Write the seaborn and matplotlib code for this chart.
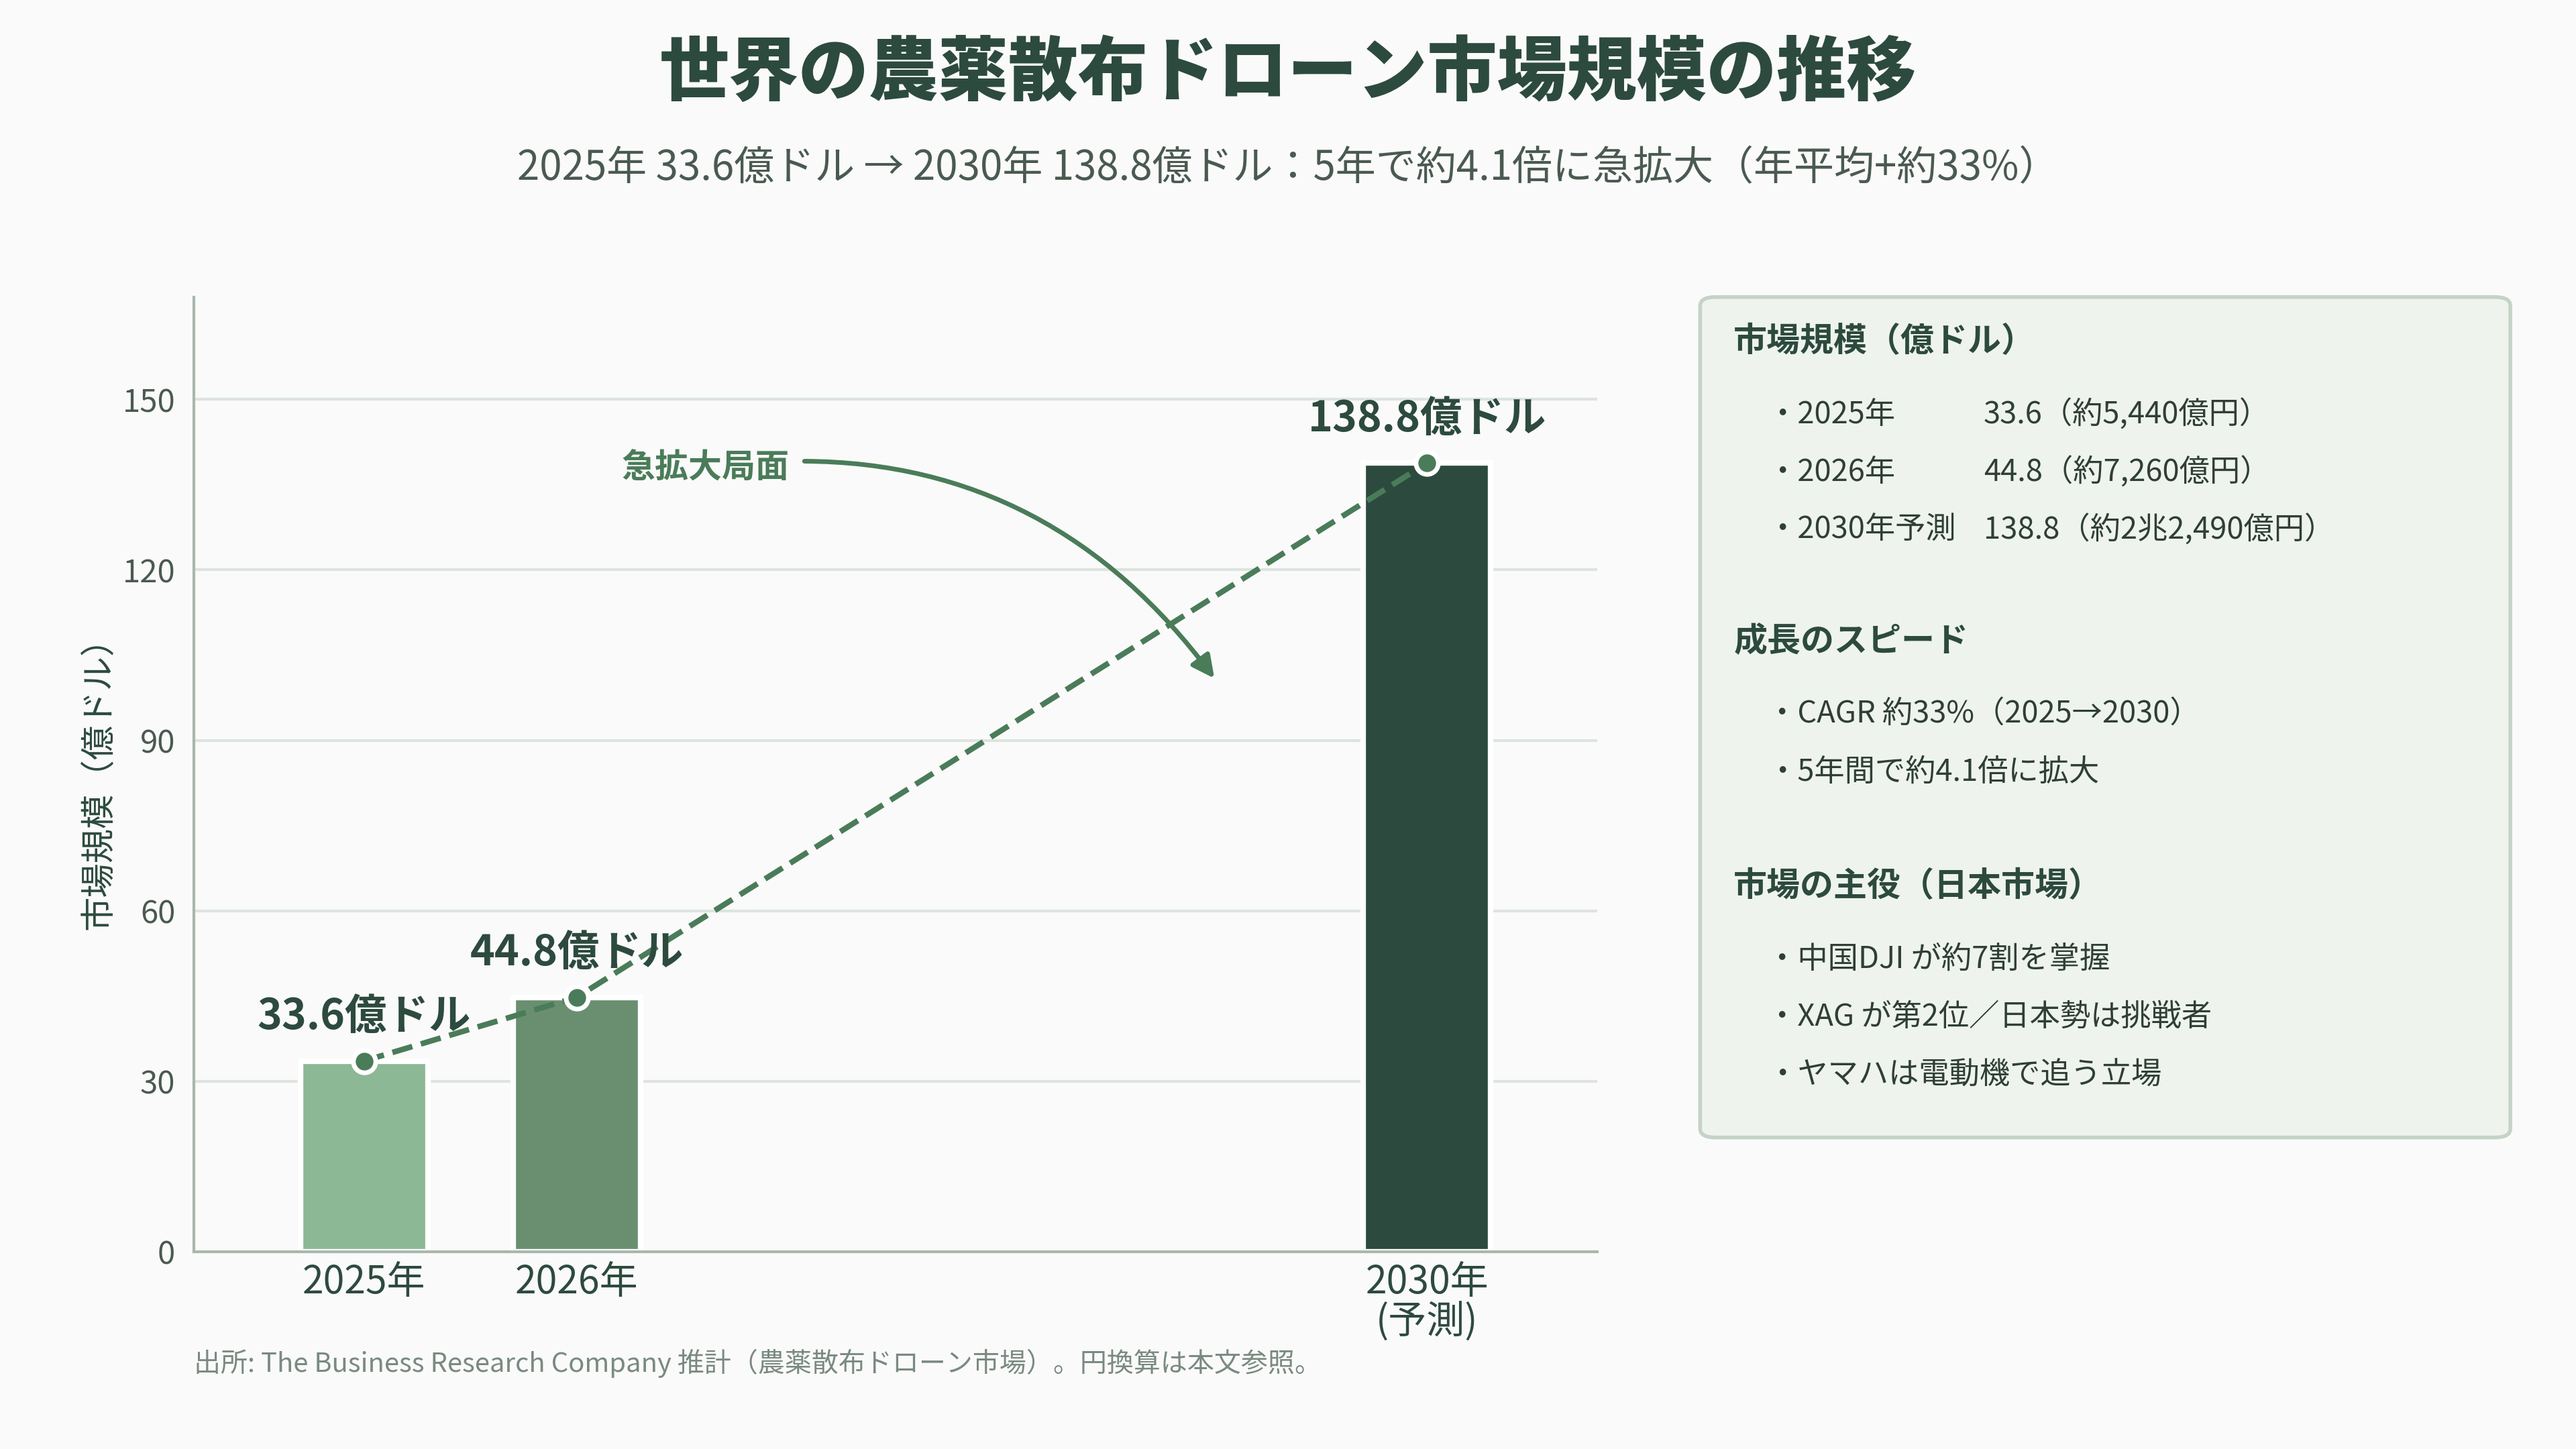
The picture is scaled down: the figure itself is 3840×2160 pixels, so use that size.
import numpy as np
import pandas as pd
import matplotlib
matplotlib.use('Agg')
import matplotlib.pyplot as plt
from matplotlib.patches import FancyBboxPatch
import seaborn as sns

# data
years = [2025, 2026, 2030]
market_size = [33.6, 44.8, 138.8]
tick_labels = ['2025年', '2026年', '2030年\n(予測)']
value_labels = ['33.6億ドル', '44.8億ドル', '138.8億ドル']
bar_colors = ['#8cb896', '#6a8f70', '#2d4a3e']

panel_sections = [
    ('市場規模（億ドル）', [
        ('・2025年', '33.6（約5,440億円）'),
        ('・2026年', '44.8（約7,260億円）'),
        ('・2030年予測', '138.8（約2兆2,490億円）'),
    ]),
    ('成長のスピード', [
        ('・CAGR 約33%（2025→2030）', ''),
        ('・5年間で約4.1倍に拡大', ''),
    ]),
    ('市場の主役（日本市場）', [
        ('・中国DJI が約7割を掌握', ''),
        ('・XAG が第2位／日本勢は挑戦者', ''),
        ('・ヤマハは電動機で追う立場', ''),
    ]),
]

DARK = '#2d4a3e'
ACCENT = '#4a7c59'
BG = '#fafafa'

sns.set_theme(style='white')
plt.rcParams['font.family'] = ['Noto Sans CJK JP', 'DejaVu Sans']
plt.rcParams['axes.unicode_minus'] = False

fig = plt.figure(figsize=(19.2, 10.8), dpi=200, facecolor=BG)
ax = fig.add_axes([0.0753, 0.136, 0.5447, 0.659])
ax.set_facecolor(BG)

df = pd.DataFrame({'year': years, 'size': market_size, 'label': tick_labels})
sns.barplot(data=df, x='year', y='size', hue='label',
            palette=dict(zip(tick_labels, bar_colors)), saturation=1,
            native_scale=True, width=0.6, legend=False,
            edgecolor='white', linewidth=3, ax=ax, zorder=2)
sns.lineplot(data=df, x='year', y='size', color=ACCENT, linestyle='--',
             linewidth=3, marker='o', markersize=12, markeredgecolor='white',
             markeredgewidth=2.5, ax=ax, zorder=4)

for x, y, lab in zip(years, market_size, value_labels):
    ax.annotate(lab, (x, y), xytext=(0, 12), textcoords='offset points',
                ha='center', va='bottom', fontsize=22.5, fontweight='bold',
                color=DARK, zorder=5)

ax.annotate('急拡大局面', xy=(2029.0, 100.9), xytext=(2027.0, 137.8),
            ha='right', va='center', fontsize=18, fontweight='bold', color=ACCENT,
            arrowprops=dict(arrowstyle='-|>', color=ACCENT, lw=2.5,
                            mutation_scale=25, shrinkA=6, shrinkB=0,
                            connectionstyle='arc3,rad=-0.3'))

ax.set_xlim(2024.2, 2030.8)
ax.set_ylim(0, 168)
ax.set_yticks([0, 30, 60, 90, 120, 150])
ax.set_xticks(years)
ax.set_xticklabels(tick_labels, fontsize=20.5, color=DARK, linespacing=1.0)
ax.tick_params(axis='y', labelsize=17, labelcolor='#4a5a50', length=0, pad=10)
ax.tick_params(axis='x', length=0, pad=6)
ax.set_xlabel('')
ax.set_ylabel('市場規模（億ドル）', fontsize=18.5, color=DARK, labelpad=3)
ax.yaxis.grid(True, color='#dde4de', linewidth=1.5, zorder=0)
ax.set_axisbelow(True)
for s in ['top', 'right']:
    ax.spines[s].set_visible(False)
for s in ['left', 'bottom']:
    ax.spines[s].set_color('#a8b8ab')
    ax.spines[s].set_linewidth(1.5)

fig.text(0.5, 0.949, '世界の農薬散布ドローン市場規模の推移', ha='center', va='center',
         fontsize=37.5, fontweight='black', color=DARK)
fig.text(0.5, 0.884, '2025年 33.6億ドル → 2030年 138.8億ドル：5年で約4.1倍に急拡大（年平均+約33%）',
         ha='center', va='center', fontsize=21.6, color='#4a5a50')
fig.text(0.0753, 0.059, '出所: The Business Research Company 推計（農薬散布ドローン市場）。円換算は本文参照。',
         ha='left', va='center', fontsize=14.4, color='#7a8a80')

# side panel
box = FancyBboxPatch((0.660, 0.215), 0.3145, 0.58, boxstyle='round,pad=0,rounding_size=0.006',
                     transform=fig.transFigure, facecolor='#eef3ee', edgecolor='#c5d3c7',
                     linewidth=2, zorder=0)
fig.patches.append(box)

head_y = [0.764, 0.557, 0.388]
item_gap = 0.0398
for (head, items), hy in zip(panel_sections, head_y):
    fig.text(0.673, hy, head, ha='left', va='center', fontsize=18,
             fontweight='bold', color=DARK)
    for i, (left, right) in enumerate(items):
        iy = hy - 0.05 - i * item_gap
        fig.text(0.686, iy, left, ha='left', va='center', fontsize=16.3, color='#2f3f36')
        if right:
            fig.text(0.770, iy, right, ha='left', va='center', fontsize=16.3, color='#2f3f36')

fig.savefig('out.png', dpi=200, facecolor=BG)
